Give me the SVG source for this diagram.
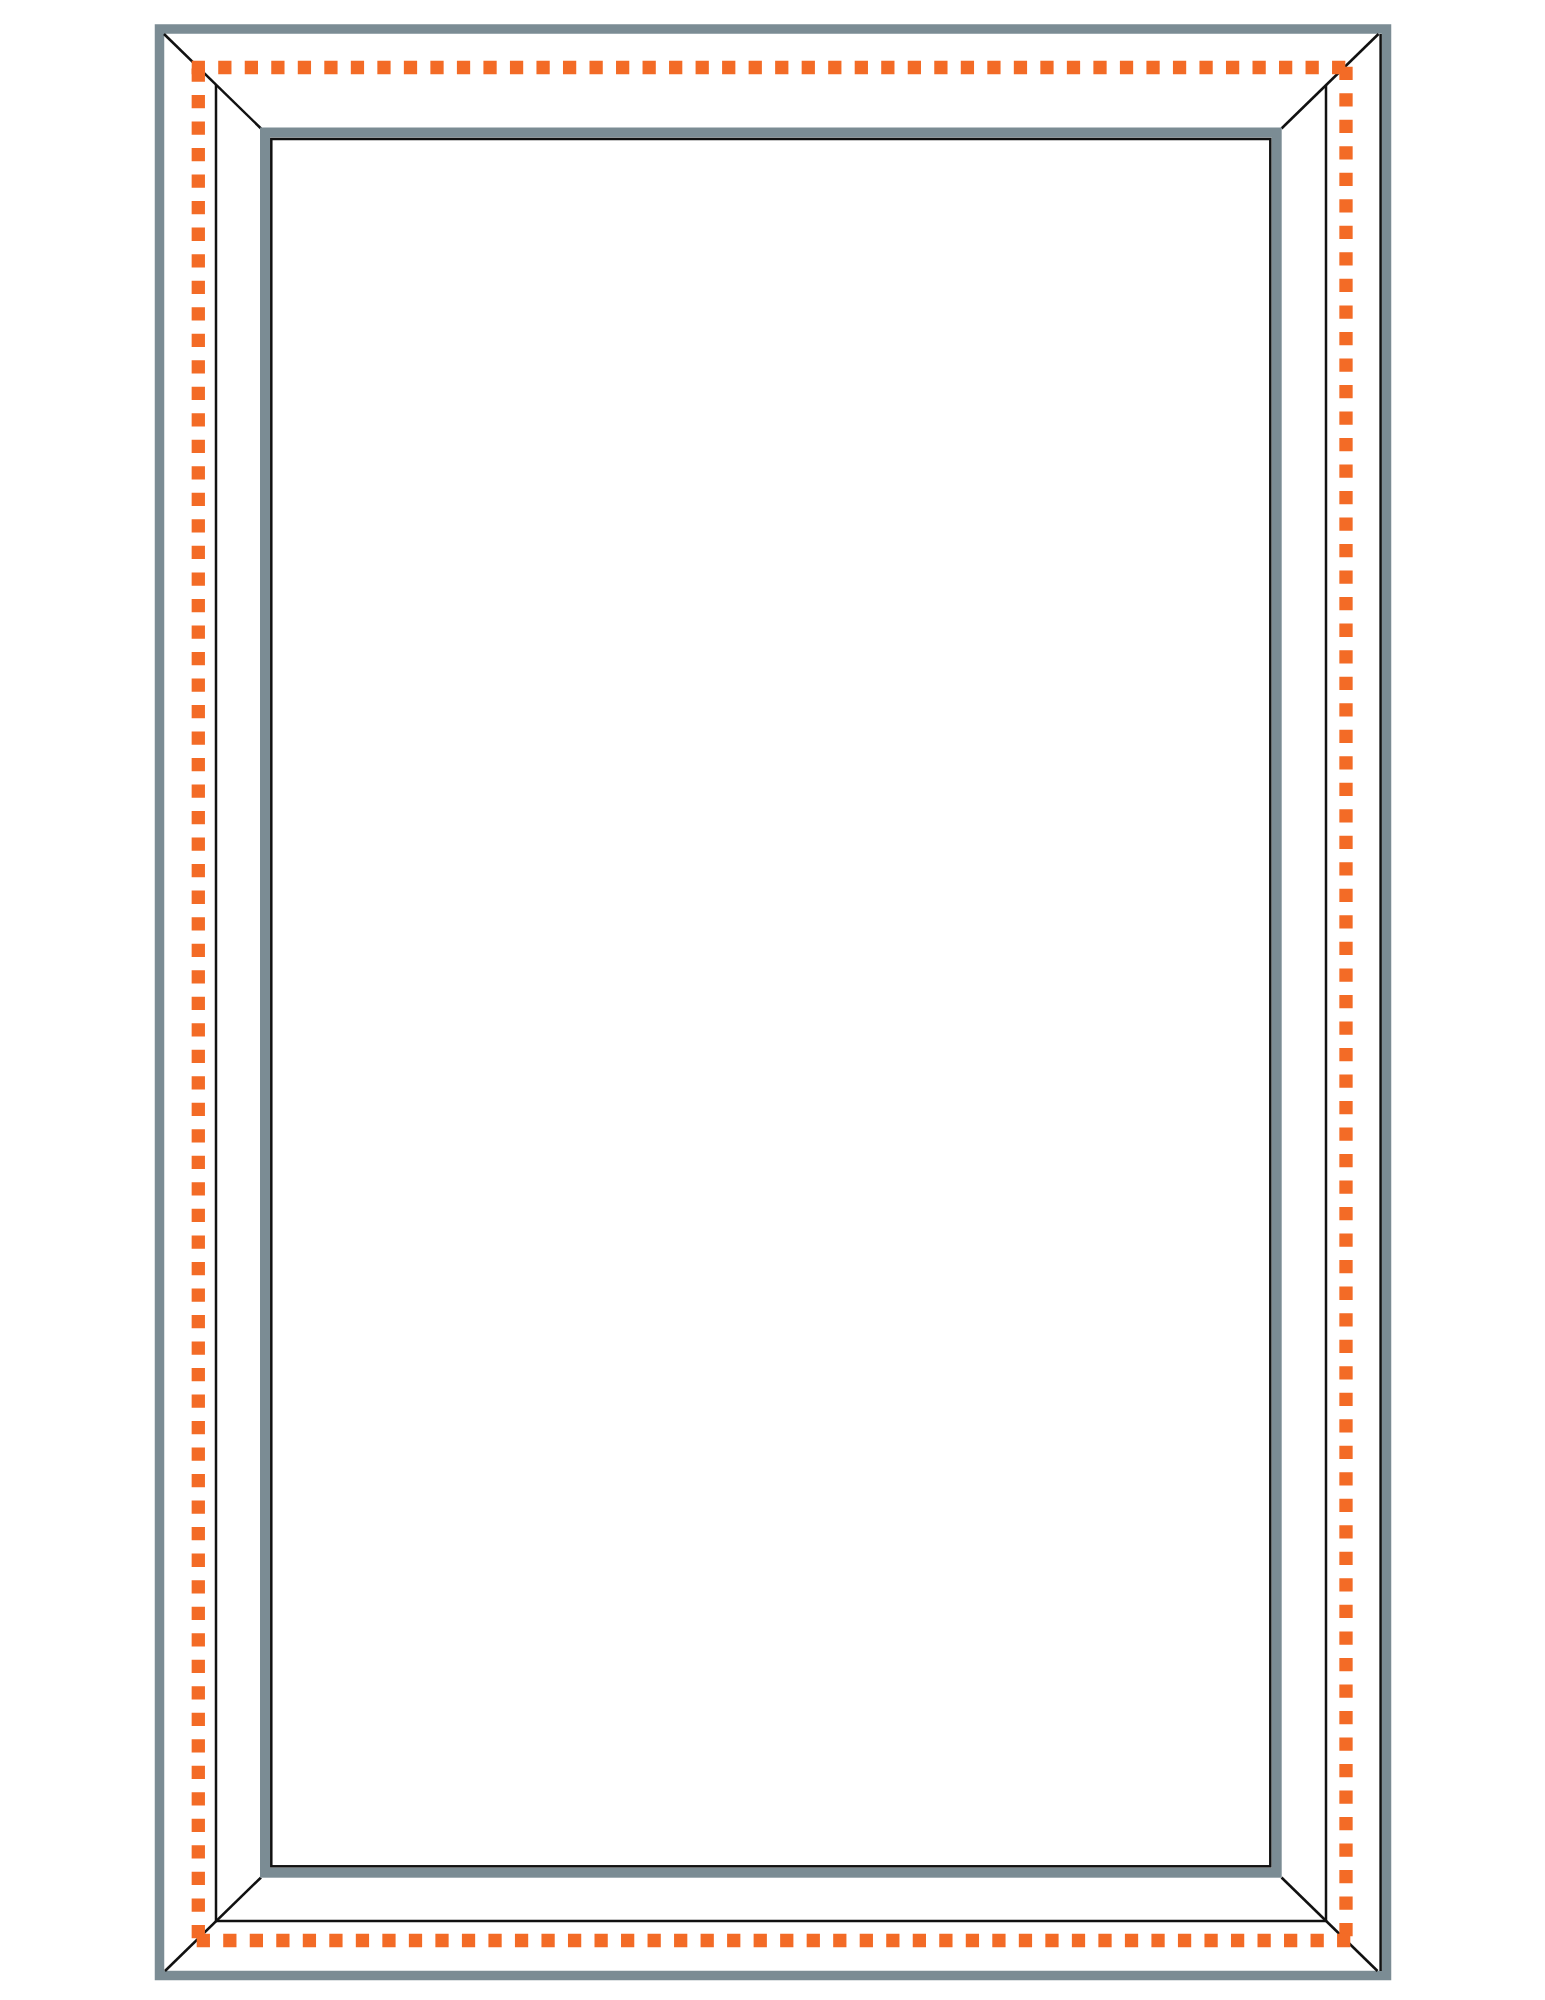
<svg xmlns="http://www.w3.org/2000/svg" width="1545" height="2000" viewBox="0 0 1545 2000">
<style>
.frame{fill:none;stroke:#7b8c94}
.ln{fill:none;stroke:#111;stroke-width:2.5}
.dash{fill:none;stroke:#f36b26;stroke-width:13.3;stroke-dasharray:13.26 13.26;stroke-linecap:butt}
</style>
<rect width="1545" height="2000" fill="#fff"/>
<g id="outer-frame">
<rect class="frame" x="159.5" y="29" width="1227" height="1946.5" stroke-width="9.5"/>
<line class="ln" x1="1380.6" y1="34" x2="1380.6" y2="1971"/>
</g>
<g id="sash">
<polyline class="ln" points="216,85 216,1921 1326,1921 1326,85"/>
</g>
<g id="mitres">
<line class="ln" x1="164" y1="34" x2="261" y2="128.5"/>
<line class="ln" x1="1378.5" y1="34" x2="1281.5" y2="128.5"/>
<line class="ln" x1="165" y1="1971" x2="261" y2="1877.5"/>
<line class="ln" x1="1377.5" y1="1971" x2="1281.5" y2="1877.5"/>
</g>
<g id="glass-frame">
<rect class="frame" x="265" y="132.5" width="1011.7" height="1740.2" stroke-width="10"/>
<rect class="ln" x="271.3" y="139" width="999" height="1727.3"/>
</g>
<g id="seal">
<line class="dash" x1="191.7" y1="67.5" x2="1345.7" y2="67.5"/>
<line class="dash" x1="198.3" y1="68.5" x2="198.3" y2="1938.3"/>
<line class="dash" x1="1346" y1="66.7" x2="1346" y2="1936.7"/>
<line class="dash" x1="196.7" y1="1940.5" x2="1350.4" y2="1940.5"/>
</g>
</svg>
